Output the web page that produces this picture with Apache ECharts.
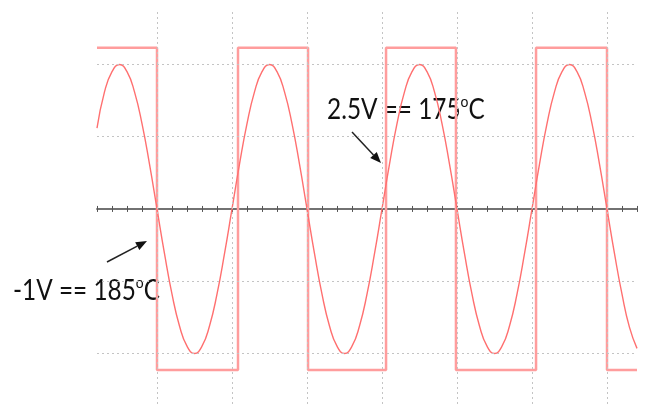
<!DOCTYPE html>
<html>
<head>
<meta charset="utf-8">
<script src="https://cdn.jsdelivr.net/npm/echarts@6/dist/echarts.min.js"></script>
<style>
  html, body { margin: 0; padding: 0; background: #fff; }
  #chart { width: 646px; height: 404px; }
</style>
</head>
<body>
<div id="chart"></div>
<script>
// x is in minor scope divisions (one tick), y in major divisions
const SINE_STEP = 0.5
const sineValues = [
  1.12, 1.62, 1.90, 2.00, 1.90, 1.62, 1.18, 0.62,
  0, -0.62, -1.18, -1.62, -1.90, -2.00, -1.90, -1.62, -1.18, -0.62,
  0, 0.62, 1.18, 1.62, 1.90, 2.00, 1.90, 1.62, 1.18, 0.62,
  0, -0.62, -1.18, -1.62, -1.90, -2.00, -1.90, -1.62, -1.18, -0.62,
  0, 0.62, 1.18, 1.62, 1.90, 2.00, 1.90, 1.62, 1.18, 0.62,
  0, -0.62, -1.18, -1.62, -1.90, -2.00, -1.90, -1.62, -1.18, -0.62,
  0, 0.62, 1.18, 1.62, 1.90, 2.00, 1.90, 1.62, 1.18, 0.62,
  0, -0.62, -1.18, -1.64, -1.93
]
const squareEdges = [0, 4, 9.4, 14.07, 19.27, 23.93, 29.27, 34, 36]
const squareLevels = [2.23, -2.23, 2.23, -2.23, 2.23, -2.23, 2.23, -2.23, -2.23]
const gridX = [4, 9, 14, 19, 24, 29, 34]
const gridY = [-2, -1, 1, 2]

const sineData = sineValues.map((v, i) => [i * SINE_STEP, v])
const squareData = squareEdges.map((t, i) => [t, squareLevels[i]])

function arrow(x1, y1, x2, y2) {
  const len = Math.hypot(x2 - x1, y2 - y1)
  const ux = (x2 - x1) / len, uy = (y2 - y1) / len
  const bx = x2 - 11 * ux, by = y2 - 11 * uy
  return [
    { type: 'line', shape: { x1, y1, x2: bx, y2: by }, style: { stroke: '#222', lineWidth: 1.5 } },
    {
      type: 'polygon',
      shape: { points: [[x2, y2], [bx - 4.5 * uy, by + 4.5 * ux], [bx + 4.5 * uy, by - 4.5 * ux]] },
      style: { fill: '#111' }
    }
  ]
}

const labelFont = 'Lato'
const rich = {
  m: { fontSize: 28, fontFamily: labelFont, lineHeight: 28, fill: '#111' },
  // bottom padding lifts the small o up to the cap line
  s: { fontSize: 16, fontFamily: labelFont, lineHeight: 12, padding: [0, 0, 16, 0], fill: '#111' }
}

function label(x, y, main, tail) {
  return {
    type: 'text',
    x: x,
    y: y,
    scaleX: 0.87,
    style: { text: '{m|' + main + '}{s|o}{m|' + tail + '}', rich, fill: '#111' }
  }
}

const tickAxis = {
  type: 'value',
  min: 0,
  max: 36,
  interval: 1,
  axisLine: { onZero: true, lineStyle: { color: '#6a6a6a', width: 1.5 } },
  axisTick: { show: true, length: 3, lineStyle: { color: '#555', width: 1 } },
  axisLabel: { show: false },
  splitLine: { show: false }
}

const hiddenY = {
  type: 'value',
  min: -2.7,
  max: 2.74,
  axisLine: { show: false },
  axisTick: { show: false },
  axisLabel: { show: false },
  splitLine: { show: false }
}

const option = {
  animation: false,
  backgroundColor: '#fff',
  grid: { left: 97, right: 9, top: 11, bottom: 0 },
  xAxis: [
    Object.assign({}, tickAxis, { position: 'bottom' }),
    Object.assign({}, tickAxis, {
      position: 'bottom',
      axisLine: Object.assign({}, tickAxis.axisLine, { onZeroAxisIndex: 1 }),
      axisTick: Object.assign({}, tickAxis.axisTick, { inside: true })
    })
  ],
  yAxis: [hiddenY, Object.assign({}, hiddenY)],
  series: [
    {
      name: 'grid',
      type: 'line',
      data: [],
      z: 1,
      markLine: {
        silent: true,
        symbol: 'none',
        label: { show: false },
        lineStyle: { color: '#c4c4c4', type: [2, 3], width: 1 },
        data: gridX.map((x) => ({ xAxis: x })).concat(gridY.map((y) => ({ yAxis: y })))
      }
    },
    {
      name: 'square',
      type: 'line',
      step: 'end',
      data: squareData,
      symbol: 'none',
      z: 3,
      lineStyle: { color: '#ff9d9d', width: 2.5 }
    },
    {
      name: 'sine',
      type: 'line',
      smooth: true,
      data: sineData,
      symbol: 'none',
      z: 4,
      lineStyle: { color: '#ff7070', width: 1.4 }
    }
  ],
  graphic: [
    ...arrow(107, 262, 147, 241),
    ...arrow(352, 132, 381, 163),
    label(327, 96, '2.5V == 175', 'C'),
    label(13, 277, '-1V == 185', 'C')
  ]
}

const chart = echarts.init(document.getElementById('chart'))
chart.setOption(option)
</script>
</body>
</html>
